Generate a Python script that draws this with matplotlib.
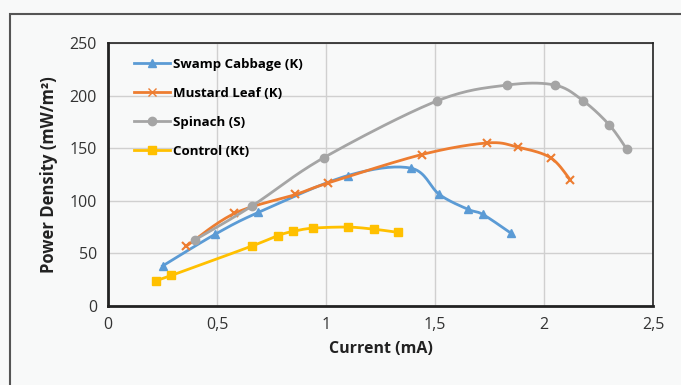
import numpy as np
import matplotlib.pyplot as plt
from matplotlib.patches import Rectangle
from matplotlib.ticker import FuncFormatter

plt.rcParams['font.family'] = ['Open Sans', 'DejaVu Sans']

# Data
swamp_x = [0.25, 0.49, 0.69, 1.10, 1.39, 1.52, 1.65, 1.72, 1.85]
swamp_y = [38, 68, 89, 124, 131, 106, 92, 87, 69]

mustard_x = [0.36, 0.58, 0.86, 1.01, 1.44, 1.74, 1.88, 2.03, 2.12]
mustard_y = [57, 88, 106, 117, 144, 155, 151, 141, 120]

spinach_x = [0.40, 0.66, 0.99, 1.51, 1.83, 2.05, 2.18, 2.30, 2.38]
spinach_y = [63, 95, 141, 195, 210, 210, 195, 172, 149]

control_x = [0.22, 0.29, 0.66, 0.78, 0.85, 0.94, 1.10, 1.22, 1.33]
control_y = [24, 29, 57, 67, 71, 74, 75, 73, 70]


def smooth(x, y, n=20):
    # Catmull-Rom curve through the points, like Excel's smoothed line
    p = np.column_stack([x, y]).astype(float)
    p = np.vstack([p[0], p, p[-1]])
    out = []
    for i in range(1, len(p) - 2):
        p0, p1, p2, p3 = p[i - 1], p[i], p[i + 1], p[i + 2]
        t = np.linspace(0, 1, n)[:, None]
        seg = 0.5 * ((2 * p1) + (-p0 + p2) * t
                     + (2 * p0 - 5 * p1 + 4 * p2 - p3) * t ** 2
                     + (-p0 + 3 * p1 - 3 * p2 + p3) * t ** 3)
        out.append(seg)
    out = np.vstack(out)
    return out[:, 0], out[:, 1]


fig = plt.figure(figsize=(6.81, 3.85), dpi=100)
fig.patch.set_facecolor('#f8f9f9')
fig.patches.append(Rectangle((10 / 681, -0.1), 1.1, 1 - 14 / 385 + 0.1,
                             transform=fig.transFigure, fill=False,
                             edgecolor='#555555', linewidth=1.5))

ax = fig.add_axes([108 / 681, 1 - 306 / 385, 545 / 681, 263 / 385])
ax.set_facecolor('none')

series = [
    ('Swamp Cabbage (K)', swamp_x, swamp_y, '#5B9BD5', '^', 6),
    ('Mustard Leaf (K)', mustard_x, mustard_y, '#ED7D31', 'x', 6),
    ('Spinach (S)', spinach_x, spinach_y, '#A5A5A5', 'o', 6),
    ('Control (Kt)', control_x, control_y, '#FFC000', 's', 6),
]
for label, x, y, c, m, ms in series:
    sx, sy = smooth(x, y)
    ax.plot(sx, sy, color=c, linewidth=2)
    ax.plot(x, y, linestyle='none', marker=m, color=c, markersize=ms,
            markeredgewidth=1.5 if m == 'x' else 1)
    ax.plot([], [], color=c, linewidth=2, marker=m, markersize=ms, label=label)

ax.set_xlim(0, 2.5)
ax.set_ylim(0, 250)
ax.set_xticks([0, 0.5, 1, 1.5, 2, 2.5])
ax.set_yticks([0, 50, 100, 150, 200, 250])
ax.xaxis.set_major_formatter(FuncFormatter(lambda v, p: f'{v:g}'.replace('.', ',')))
ax.grid(True, color='#d0d0d0', linewidth=1)
ax.set_axisbelow(True)
for s in ax.spines.values():
    s.set_color('#222222')
    s.set_linewidth(1.2)
ax.spines['left'].set_linewidth(2)
ax.spines['bottom'].set_linewidth(2)
ax.tick_params(length=0, labelsize=11.5, colors='#333333', pad=8)

ax.set_xlabel('Current (mA)', fontsize=11.5, fontweight='bold', color='#222222', labelpad=6)
ax.set_ylabel('Power Density (mW/m²)', fontsize=12, fontweight='bold', color='#222222', labelpad=8)

ax.legend(loc='upper left', frameon=False, handlelength=2.8, handletextpad=0.2,
          labelspacing=1.22, bbox_to_anchor=(0.025, 0.99),
          prop={'weight': 'bold', 'size': 9.5})

fig.savefig('out.png', dpi=100, facecolor=fig.get_facecolor())
